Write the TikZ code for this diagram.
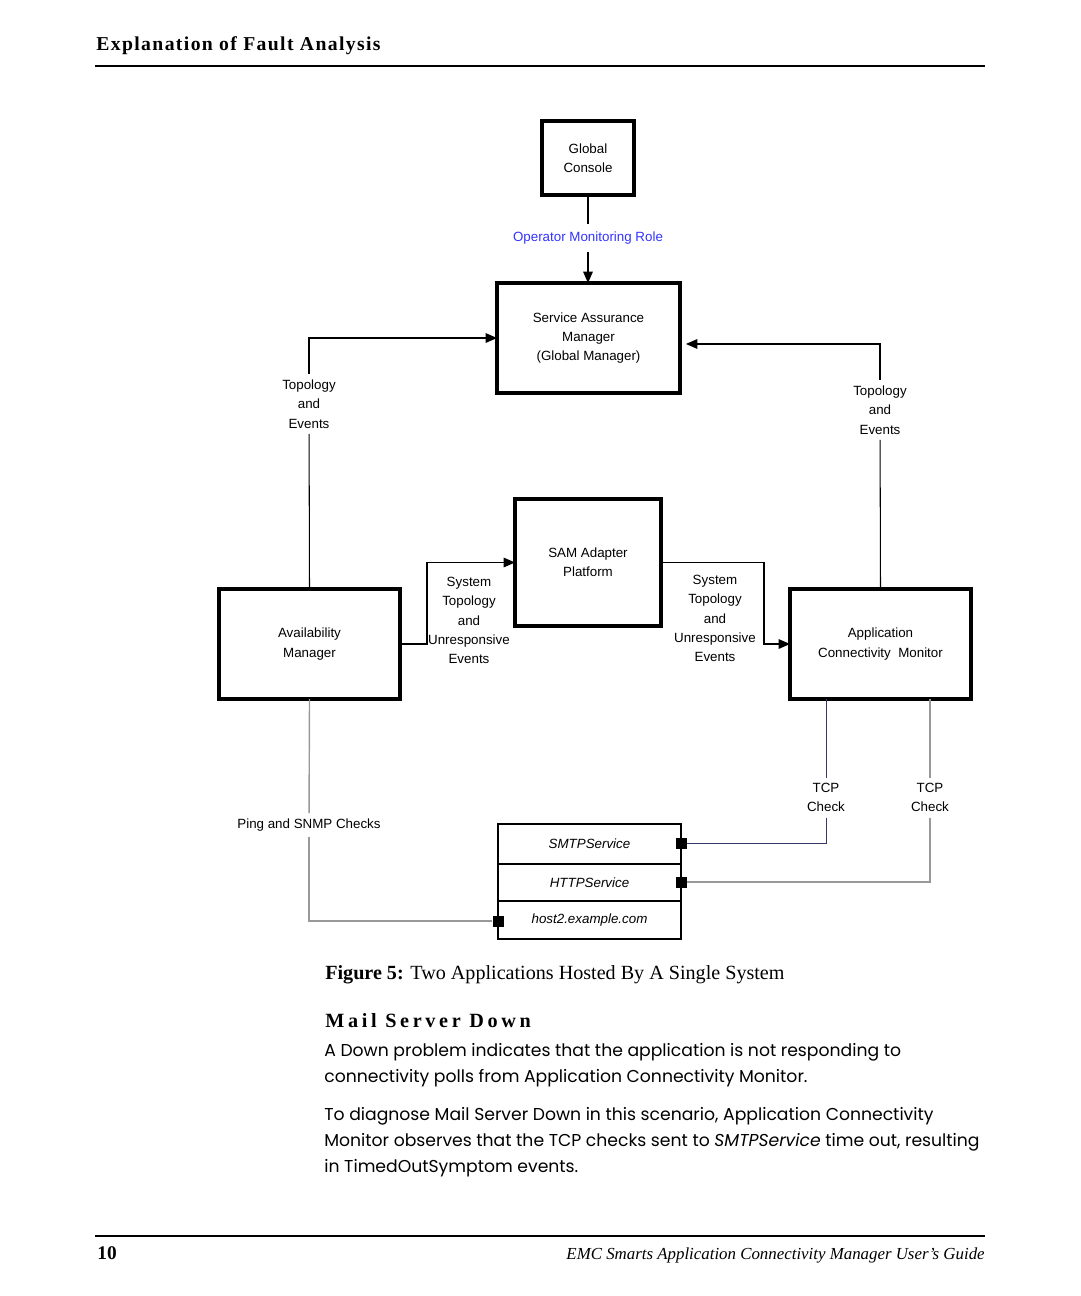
\documentclass[tikz,border=0pt]{standalone}
\usepackage{fontspec}
\setmainfont{Liberation Serif}
\newfontfamily\diagfont{Liberation Sans}
\newfontfamily\bodyfont{Poppins}
\newfontfamily\spacedfont[LetterSpace=7]{Liberation Serif}
\newfontfamily\widefont[LetterSpace=18]{Liberation Serif}
\usetikzlibrary{arrows.meta, positioning, calc}

\tikzset{
  box/.style={draw, line width=2pt, align=center, inner sep=2pt, outer sep=0pt,
    font=\diagfont\fontsize{7.6}{11}\selectfont},
  row/.style={draw, line width=1.1pt, minimum width=3.66cm, inner sep=0pt, outer sep=0pt,
    font=\diagfont\itshape\fontsize{7.6}{11}\selectfont},
  port/.style={fill=black, minimum size=0.22cm, inner sep=0pt},
  lbl/.style={align=center, inner sep=3pt, font=\diagfont\fontsize{7.6}{11}\selectfont},
  link/.style={line width=0.6pt},
  flow/.style={line width=0.6pt, -{Triangle[length=6.5pt, width=5.5pt]}},
  gline/.style={line width=0.8pt, draw=black!40},
  nline/.style={line width=0.5pt, draw={rgb,255:red,55;green,55;blue,105}},
  bodytext/.style={anchor=north west, align=left, inner sep=0pt,
    font=\bodyfont\fontsize{9.8}{14.7}\selectfont}
}

\begin{document}
\begin{tikzpicture}[x=0.02cm, y=-0.02cm]
  \fill[white] (0,0) rectangle (1080,1296);
  \useasboundingbox (0,0) rectangle (1080,1296);

  % Page header
  \node[anchor=base west, inner sep=0pt, font=\spacedfont\bfseries\fontsize{11.2}{13}\selectfont] (hdr) at (96,50) {Explanation of Fault Analysis};
  \draw[line width=1.3pt] (95,66) -- (985,66);

  % Managers
  \node[box, minimum width=1.84cm, minimum height=1.48cm] (gc) at (588,158) {Global\\Console};
  \node[box, minimum width=3.66cm, minimum height=2.2cm] (sam) at (588.5,338) {Service Assurance\\Manager\\(Global Manager)};
  \node[box, minimum width=2.92cm, minimum height=2.54cm] (sap) at (588,562.5) {SAM Adapter\\Platform};
  \node[box, minimum width=3.62cm, minimum height=2.2cm] (am) at (309.5,644) {Availability\\Manager};
  \node[box, minimum width=3.62cm, minimum height=2.2cm] (acm) at (880.5,644) {Application\\Connectivity~~Monitor};

  % Monitored host
  \node[row, minimum height=0.8cm] (smtp) at (589.5,844) {SMTPService};
  \node[row, minimum height=0.74cm, below=0pt of smtp] (http) {HTTPService};
  \node[row, minimum height=0.76cm, below=0pt of http] (host) {\raisebox{-2pt}{host2.example.com}};
  \node[port] (psmtp) at (681,843) {};
  \node[port] (phttp) at (681,882) {};
  \node[port] (phost) at (498,921) {};

  % Connector labels
  \node[lbl, text=blue!80, inner sep=4pt] (omr) at (588,238) {Operator Monitoring Role};
  \node[lbl] (tleft) at (309,404) {Topology\\and\\Events};
  \node[lbl] (tright) at (880,410) {Topology\\and\\Events};
  \node[lbl] (sysl) at (469,620.5) {System\\Topology\\and\\Unresponsive\\Events};
  \node[lbl] (sysr) at (715,618.5) {System\\Topology\\and\\Unresponsive\\Events};
  \node[lbl] (ping) at (309,825) {Ping and SNMP Checks};
  \node[lbl] (tcpa) at (826,797.5) {TCP\\Check};
  \node[lbl] (tcpb) at (930,797.5) {TCP\\Check};

  % Connectors
  \draw[link] (gc) -- (omr);
  \draw[flow] (omr) -- (omr |- sam.north);
  \draw[link] (am.north) -- (tleft);
  \draw[flow] (tleft) |- (sam.west);
  \draw[link] (acm.north) -- (tright);
  \draw[flow] (tright) |- ([xshift=3.4pt, yshift=-3.4pt]sam.east);
  \draw[flow] (am.east) -- ++(27,0) |- (sap.west);
  \draw[flow] (sap.east) -- ++(103,0) |- (acm.west);
  \draw[gline] (am.south) -- (ping);
  \draw[gline] (ping) |- (phost);
  \draw[nline] (acm.south -| tcpa) -- (tcpa);
  \draw[nline] (tcpa) |- (psmtp);
  \draw[gline] (acm.south -| tcpb) -- (tcpb);
  \draw[gline] (tcpb) |- (phttp);

  % Caption and text
  \node[anchor=base west, inner sep=0pt, font=\fontsize{11.45}{14}\selectfont] (cap) at (325,979) {\textbf{Figure 5:} Two Applications Hosted By A Single System};
  \node[anchor=base west, inner sep=0pt, font=\widefont\bfseries\fontsize{11.5}{14}\selectfont] (sec) at (325,1027) {Mail Server Down};
  \node[bodytext] (para1) at (324,1043) {A Down problem indicates that the application is not responding to\\connectivity polls from Application Connectivity Monitor.};
  \node[bodytext] (para2) at (324,1107) {To diagnose Mail Server Down in this scenario, Application Connectivity\\Monitor observes that the TCP checks sent to \textit{SMTPService} time out, resulting\\in TimedOutSymptom events.};

  % Page footer
  \draw[line width=1.3pt] (95,1236) -- (985,1236);
  \node[anchor=base west, inner sep=0pt, font=\bfseries\fontsize{11}{13}\selectfont] (pgno) at (97,1259) {10};
  \node[anchor=base east, inner sep=0pt, font=\itshape\fontsize{9.6}{13}\selectfont] (guide) at (985,1259) {EMC Smarts Application Connectivity Manager User's Guide};
\end{tikzpicture}
\end{document}
